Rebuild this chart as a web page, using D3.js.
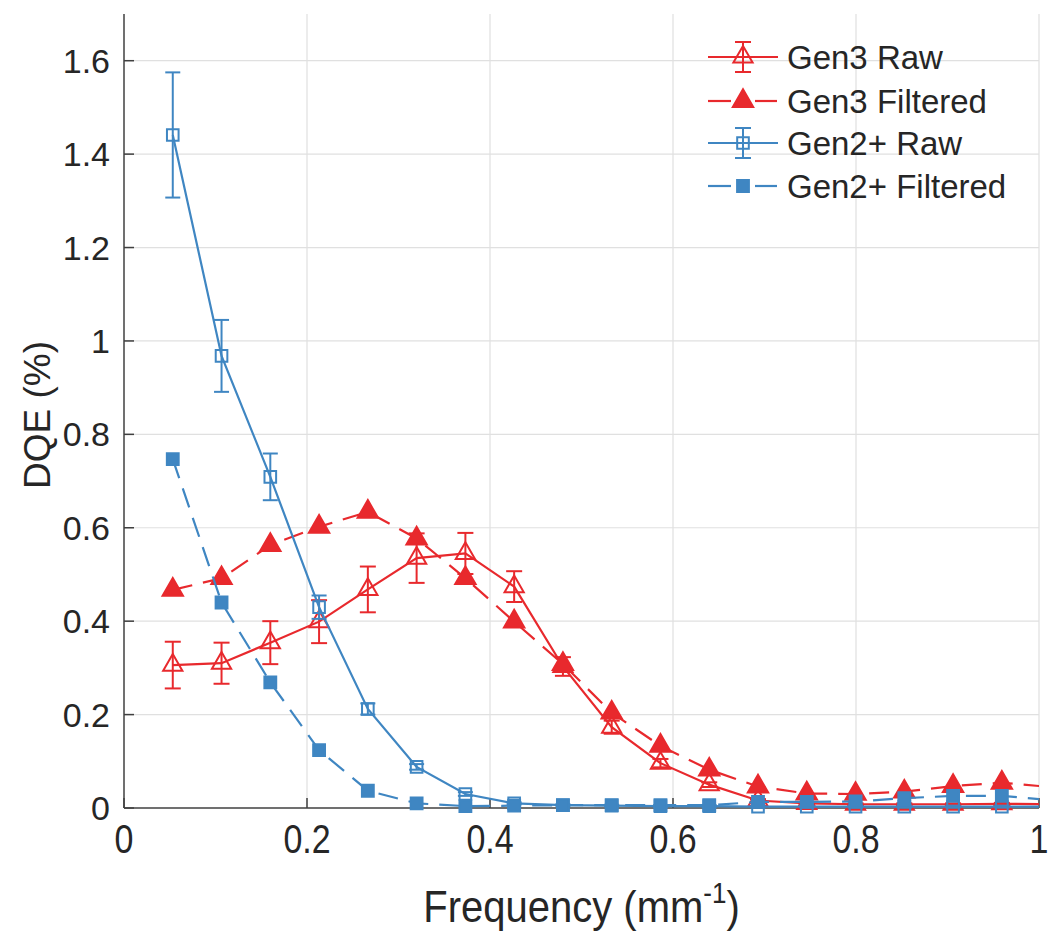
<!DOCTYPE html>
<html><head><meta charset="utf-8">
<script src="https://cdn.jsdelivr.net/npm/d3@7"></script>
<style>body{margin:0;background:#fff}svg{display:block}text{font-family:"Liberation Sans",Arial,Helvetica,sans-serif;fill:#262626}</style>
</head><body><svg id="c" width="1050" height="936"></svg>
<script>
const freq = [0.0533,0.1066,0.1599,0.2132,0.2665,0.3198,0.3731,0.4264,0.4797,0.5330,0.5863,0.6396,0.6929,0.7462,0.7995,0.8528,0.9061,0.9594,1.0127];
const gen3Raw = [0.306,0.310,0.354,0.399,0.468,0.535,0.545,0.474,0.303,0.173,0.096,0.050,0.016,0.010,0.008,0.008,0.008,0.009,0.008];
const gen3RawErr = [0.050,0.044,0.046,0.046,0.049,0.053,0.044,0.033,0.020,0.014,0.009,0.005,0.003,0.002,0.002,0.002,0.002,0.002,0.002];
const gen3Filt = [0.467,0.492,0.563,0.602,0.634,0.577,0.492,0.399,0.308,0.204,0.133,0.082,0.046,0.031,0.030,0.035,0.047,0.054,0.045];
const gen2Raw = [1.441,0.968,0.709,0.430,0.212,0.088,0.030,0.010,0.006,0.005,0.004,0.004,0.003,0.003,0.003,0.003,0.003,0.003,0.003];
const gen2RawErr = [0.134,0.077,0.050,0.025,0.012,0.006,0.004,0.002,0.002,0.002,0.002,0.002,0.002,0.002,0.002,0.002,0.002,0.002,0.002];
const gen2Filt = [0.747,0.440,0.269,0.124,0.037,0.010,0.004,0.005,0.006,0.006,0.006,0.006,0.013,0.013,0.014,0.021,0.026,0.026,0.017];
const xTicks = [0,0.2,0.4,0.6,0.8,1];
const xTickLabels = ["0","0.2","0.4","0.6","0.8","1"];
const yTicks = [0,0.2,0.4,0.6,0.8,1,1.2,1.4,1.6];
const yTickLabels = ["0","0.2","0.4","0.6","0.8","1","1.2","1.4","1.6"];
const seriesNames = ["Gen3 Raw","Gen3 Filtered","Gen2+ Raw","Gen2+ Filtered"];

const RED = "#e8292d", BLUE = "#3f86c2";
const svg = d3.select("#c");
const L = 124, R = 1039, T = 14, B = 808;
const x = d3.scaleLinear().domain([0,1]).range([L,R]);
const y = d3.scaleLinear().domain([0,1.7]).range([B,T]);

// grid
const g = svg.append("g");
g.selectAll(".gx").data(xTicks.filter(d=>d>0)).enter().append("line")
  .attr("x1",d=>x(d)).attr("x2",d=>x(d)).attr("y1",T).attr("y2",B)
  .attr("stroke","#e0e0e0").attr("stroke-width",1.2);
g.selectAll(".gy").data(yTicks.filter(d=>d>0)).enter().append("line")
  .attr("y1",d=>y(d)).attr("y2",d=>y(d)).attr("x1",L).attr("x2",R)
  .attr("stroke","#e0e0e0").attr("stroke-width",1.2);

// axes
const ax = svg.append("g");
ax.append("line").attr("x1",L).attr("x2",L).attr("y1",T).attr("y2",B).attr("stroke","#404040").attr("stroke-width",1.5);
ax.append("line").attr("x1",L).attr("x2",R).attr("y1",B).attr("y2",B).attr("stroke","#404040").attr("stroke-width",1.5);
ax.selectAll(".tx").data(xTicks).enter().append("line")
  .attr("x1",d=>x(d)).attr("x2",d=>x(d)).attr("y1",B).attr("y2",B-10).attr("stroke","#404040").attr("stroke-width",1.5);
ax.selectAll(".ty").data(yTicks).enter().append("line")
  .attr("y1",d=>y(d)).attr("y2",d=>y(d)).attr("x1",L).attr("x2",L+10).attr("stroke","#404040").attr("stroke-width",1.5);
ax.selectAll(".lx").data(xTicks).enter().append("text")
  .attr("transform",d=>`translate(${x(d)},${B+45}) scale(1,1.2)`)
  .attr("text-anchor","middle").attr("font-size",34).text((d,i)=>xTickLabels[i]);
ax.selectAll(".ly").data(yTicks).enter().append("text")
  .attr("x",L-14).attr("y",d=>y(d)+12).attr("text-anchor","end").attr("font-size",34).text((d,i)=>yTickLabels[i]);

const xl = svg.append("text").attr("transform",`translate(${(L+R)/2},922) scale(1,1.1)`).attr("text-anchor","middle").attr("font-size",40);
xl.append("tspan").text("Frequency (mm");
xl.append("tspan").attr("font-size",26).attr("dy",-17).text("-1");
xl.append("tspan").attr("dy",17).text(")");
svg.append("text").attr("transform",`translate(50,${(T+B)/2+4}) rotate(-90)`).attr("text-anchor","middle").attr("font-size",37).text("DQE (%)");

// data
svg.append("clipPath").attr("id","clip").append("rect").attr("x",L).attr("y",0).attr("width",R-L).attr("height",B+20);
const plot = svg.append("g").attr("clip-path","url(#clip)");
const line = d3.line().x((d,i)=>x(freq[i])).y(d=>y(d));
const tri = d3.symbol().type(d3.symbolTriangle);
const sq = d3.symbol().type(d3.symbolSquare);

function drawSeries(vals, err, color, dashed, marker, filled, msize, cap){
  const gg = plot.append("g");
  gg.append("path").datum(vals).attr("d",line).attr("fill","none").attr("stroke",color)
    .attr("stroke-width",2.2).attr("stroke-dasharray",dashed?"20,11":null);
  if(err){
    const eb = gg.selectAll(".eb").data(vals).enter().append("g");
    eb.append("line").attr("x1",(d,i)=>x(freq[i])).attr("x2",(d,i)=>x(freq[i]))
      .attr("y1",(d,i)=>y(d+err[i])).attr("y2",(d,i)=>y(d-err[i])).attr("stroke",color).attr("stroke-width",2);
    [1,-1].forEach(s=>{
      eb.append("line").attr("x1",(d,i)=>x(freq[i])-cap).attr("x2",(d,i)=>x(freq[i])+cap)
        .attr("y1",(d,i)=>y(d+s*err[i])).attr("y2",(d,i)=>y(d+s*err[i])).attr("stroke",color).attr("stroke-width",2);
    });
  }
  gg.selectAll(".m").data(vals).enter().append("path")
    .attr("d",marker.size(msize)).attr("transform",(d,i)=>`translate(${x(freq[i])},${y(d)})`)
    .attr("fill",filled?color:"#fff").attr("fill-opacity",filled?1:0).attr("stroke",color).attr("stroke-width",2);
}
drawSeries(gen3Raw, gen3RawErr, RED, false, tri, false, 160, 8);
drawSeries(gen3Filt, null, RED, true, tri, true, 180, 8);
drawSeries(gen2Raw, gen2RawErr, BLUE, false, sq, false, 135, 7.5);
drawSeries(gen2Filt, null, BLUE, true, sq, true, 140, 7.5);

// legend
const leg = svg.append("g");
const legRows = [
  {name:seriesNames[0], color:RED, dashed:false, marker:tri, filled:false, size:160, err:true, y:57},
  {name:seriesNames[1], color:RED, dashed:true, marker:tri, filled:true, size:180, err:false, y:101},
  {name:seriesNames[2], color:BLUE, dashed:false, marker:sq, filled:false, size:135, err:true, y:143},
  {name:seriesNames[3], color:BLUE, dashed:true, marker:sq, filled:true, size:140, err:false, y:186}
];
legRows.forEach(r=>{
  if(r.dashed){
    leg.append("line").attr("x1",708).attr("x2",731).attr("y1",r.y).attr("y2",r.y).attr("stroke",r.color).attr("stroke-width",2.2);
    leg.append("line").attr("x1",755).attr("x2",777).attr("y1",r.y).attr("y2",r.y).attr("stroke",r.color).attr("stroke-width",2.2);
  } else {
    leg.append("line").attr("x1",708).attr("x2",778).attr("y1",r.y).attr("y2",r.y).attr("stroke",r.color).attr("stroke-width",2.2);
  }
  if(r.err){
    leg.append("line").attr("x1",743).attr("x2",743).attr("y1",r.y-15).attr("y2",r.y+15).attr("stroke",r.color).attr("stroke-width",2);
    [-15,15].forEach(o=>leg.append("line").attr("x1",735).attr("x2",751).attr("y1",r.y+o).attr("y2",r.y+o).attr("stroke",r.color).attr("stroke-width",2));
  }
  leg.append("path").attr("d",r.marker.size(r.size)()).attr("transform",`translate(743,${r.y})`)
    .attr("fill",r.filled?r.color:"none").attr("stroke",r.color).attr("stroke-width",2);
  leg.append("text").attr("x",787).attr("y",r.y+12).attr("font-size",33).attr("fill","#111").text(r.name);
});
</script></body></html>
